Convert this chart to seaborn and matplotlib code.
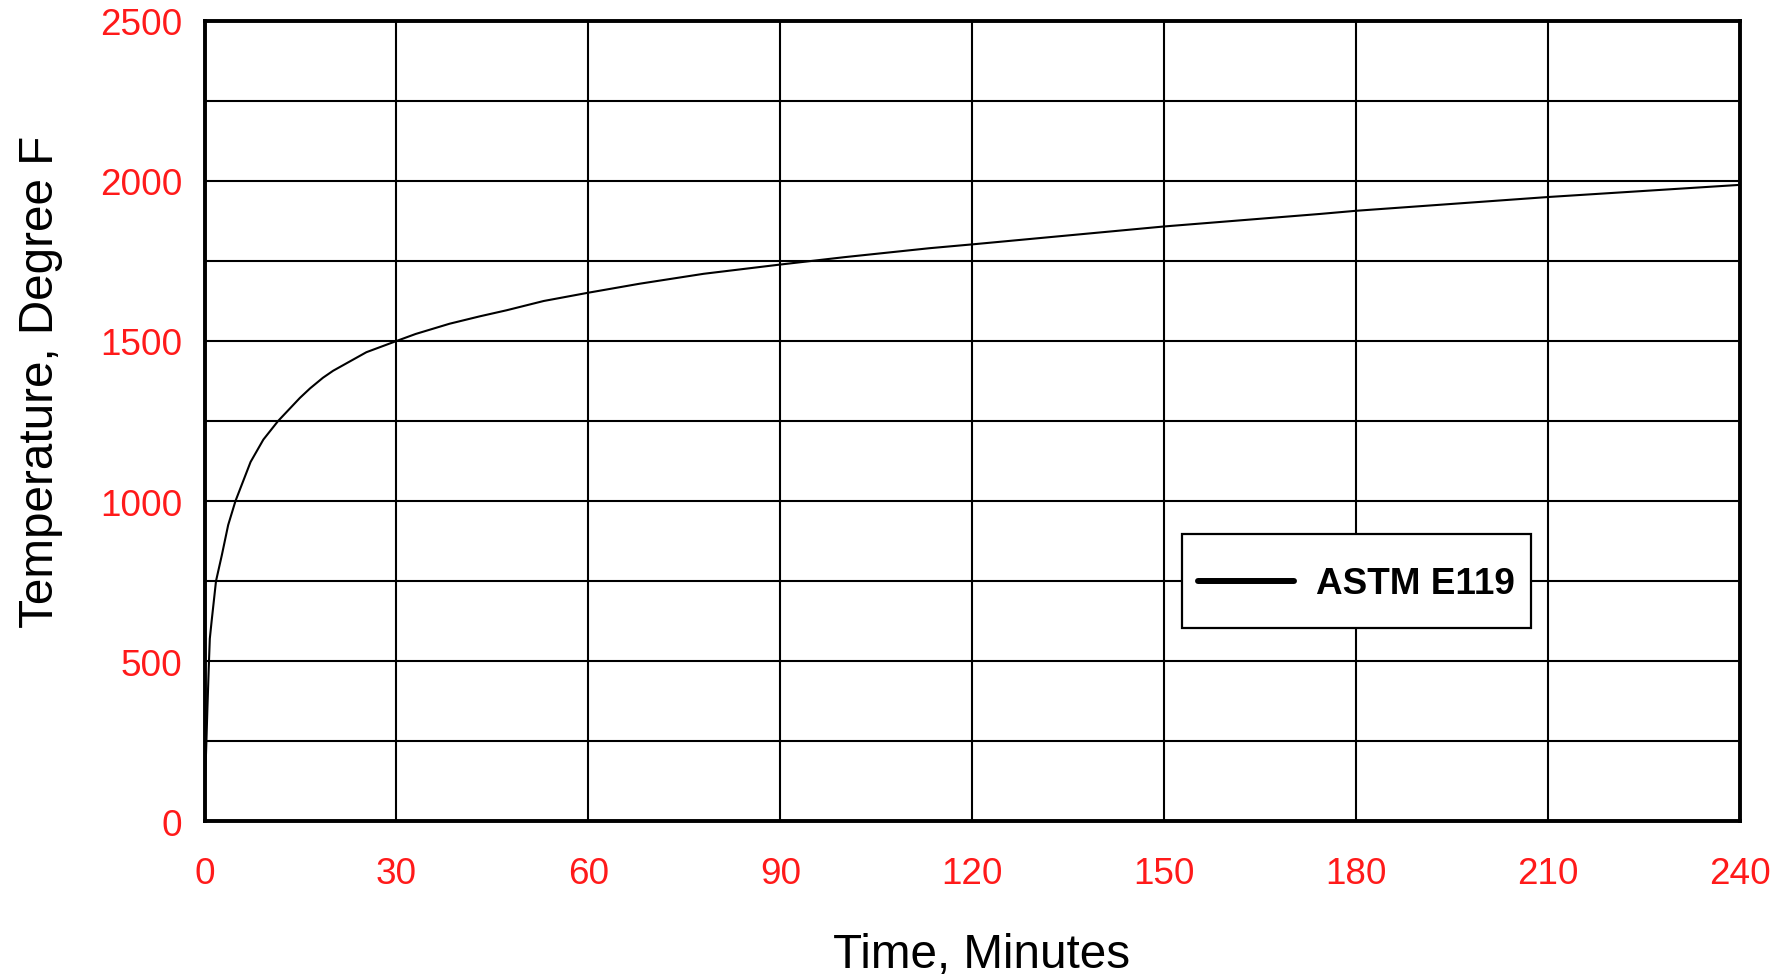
import matplotlib
matplotlib.use("Agg")
import matplotlib.pyplot as plt
import seaborn as sns
import pandas as pd
import numpy as np
from matplotlib.ticker import MultipleLocator

# Data
time_min = [0, 0.3, 0.45, 0.7, 0.83, 1.1, 1.8, 2.7, 3.7, 4.84, 7.2, 9.2, 11.5,
            14.9, 16.5, 18.5, 20.1, 25.3, 30, 33, 38.3, 43, 47.2, 53, 60, 68,
            78, 90, 100, 113.3, 120, 150, 174.3, 180, 210, 240]
temp_f = [68, 250, 350, 500, 570, 622, 750, 830, 925, 1000, 1122, 1192, 1250,
          1322, 1352, 1385, 1407, 1465, 1500, 1522, 1554, 1577, 1596, 1625, 1651, 1679,
          1710, 1739, 1762, 1790, 1802, 1858, 1897, 1907, 1950, 1988]
series_name = "ASTM E119"
x_ticks = [0, 30, 60, 90, 120, 150, 180, 210, 240]
y_ticks = [0, 500, 1000, 1500, 2000, 2500]

df = pd.DataFrame({"Time": time_min, "Temp": temp_f, "Series": series_name})

sns.set_theme(style="white")
plt.rcParams["font.family"] = ["Liberation Sans", "DejaVu Sans"]
plt.rcParams["text.color"] = "black"
plt.rcParams["axes.labelcolor"] = "black"

fig = plt.figure(figsize=(17.87, 9.78), dpi=100)
ax = fig.add_axes([204.5 / 1787, 1 - 822 / 978, (1740.3 - 204.5) / 1787, 800 / 978])

sns.lineplot(data=df, x="Time", y="Temp", hue="Series", palette=["black"],
             estimator=None, sort=False, linewidth=1.5, ax=ax, zorder=3)

ax.set_xlim(0, 240)
ax.set_ylim(0, 2500)
ax.set_xticks(x_ticks)
ax.set_yticks(y_ticks)
ax.yaxis.set_minor_locator(MultipleLocator(250))
ax.grid(which="both", color="black", linewidth=1.5, zorder=1)
ax.set_axisbelow(True)
ax.tick_params(axis="both", which="both", length=0, labelsize=26.6, labelcolor="#ff1a1a")
ax.tick_params(axis="x", pad=25)
ax.tick_params(axis="y", pad=16)
for s in ax.spines.values():
    s.set_color("black")
    s.set_linewidth(2.8)
    s.set_zorder(4)

ax.set_xlabel("Time, Minutes", fontsize=34.3, color="black")
ax.set_ylabel("Temperature, Degree F", fontsize=34.3, color="black")
ax.xaxis.set_label_coords((982 - 204.5) / 1536, (822 - 955) / 800)
ax.xaxis.label.set_va("center")
ax.yaxis.set_label_coords((40 - 204.5) / 1536, (822 - 382) / 800)
ax.yaxis.label.set_va("center")

leg = ax.legend(loc="center", bbox_to_anchor=(0.75, 0.30), frameon=True,
                fancybox=False, shadow=False, framealpha=1, edgecolor="black",
                prop={"weight": "bold", "size": 26.6}, handlelength=2.6,
                handleheight=2.15, handletextpad=0.58, borderpad=0.45,
                borderaxespad=0, labelcolor="black")
leg.get_frame().set_linewidth(1.6)
for h in leg.legend_handles:
    h.set_linewidth(4.3)
    h.set_ydata(np.asarray(h.get_ydata()) - 6.6)
leg.set_zorder(5)

fig.savefig("out.png", dpi=100, facecolor="white")
